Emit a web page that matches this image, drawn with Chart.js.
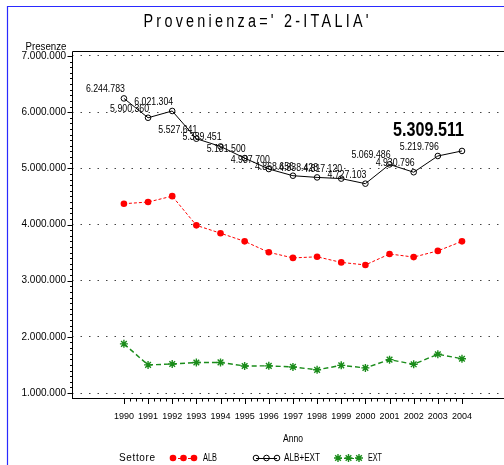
<!DOCTYPE html>
<html>
<head>
<meta charset="utf-8">
<script src="https://cdn.jsdelivr.net/npm/chart.js@4.4.1/dist/chart.umd.min.js"></script>
<style>
  html, body { margin: 0; padding: 0; background: #fff; }
  #wrap { width: 504px; height: 465px; overflow: hidden; }
</style>
</head>
<body>
<div id="wrap"><canvas id="chart" width="504" height="465"></canvas></div>
<script>
// Presenze per anno, Provenienza = 2-ITALIA
const years = [1990, 1991, 1992, 1993, 1994, 1995, 1996, 1997, 1998, 1999, 2000, 2001, 2002, 2003, 2004];
const alb = [4370000, 4400000, 4505000, 3985000, 3845000, 3700000, 3505000, 3405000, 3425000, 3325000, 3280000, 3475000, 3420000, 3530000, 3700000];
const albExt = [6244783, 5900360, 6021304, 5527641, 5389451, 5181500, 4987700, 4868656, 4838428, 4817120, 4727103, 5069486, 4930796, 5219796, 5309511];
const ext = [1875000, 1500000, 1516000, 1543000, 1544000, 1481000, 1483000, 1464000, 1413000, 1492000, 1447000, 1594000, 1511000, 1690000, 1610000];
const yTicks = [1000000, 2000000, 3000000, 4000000, 5000000, 6000000, 7000000];
const seriesNames = ['ALB', 'ALB+EXT', 'EXT'];
const titleText = "Provenienza=' 2-ITALIA'";
const yTitle = 'Presenze';
const xTitle = 'Anno';
const legendTitle = 'Settore';

const FONT = '"Liberation Sans", Arial, sans-serif';
const RED = '#ff0000', BLACK = '#000000', GREEN = '#1a8c1a';

function fmt(v) { return String(v).replace(/\B(?=(\d{3})+(?!\d))/g, '.'); }
function pts(vals) { return years.map((yr, i) => ({ x: yr, y: vals[i] })); }

// draw text squeezed horizontally (narrow look) and fitted to a width
// align: 'center' (x = centre) or 'right' (x = right edge)
function fitText(ctx, text, x, y, font, width, squeeze, align) {
  ctx.save();
  ctx.font = font;
  ctx.letterSpacing = '0px';
  const w = ctx.measureText(text).width;
  let sx = squeeze || 1, ls = 0;
  if (w * sx > width) sx = width / w;
  else if (text.length > 1) ls = (width - w * sx) / (text.length - 1) / sx;
  ctx.letterSpacing = ls + 'px';
  const left = align === 'right' ? x - width : x - width / 2;
  ctx.translate(left, y);
  ctx.scale(sx, 1);
  ctx.textAlign = 'left';
  ctx.textBaseline = 'middle';
  ctx.fillText(text, 0, 0);
  ctx.restore();
}

function drawMarker(ctx, kind, x, y) {
  ctx.beginPath();
  if (kind === 0) {
    ctx.fillStyle = RED; ctx.arc(x, y, 3.3, 0, Math.PI * 2); ctx.fill();
  } else if (kind === 1) {
    ctx.strokeStyle = BLACK; ctx.lineWidth = 1; ctx.arc(x, y, 2.8, 0, Math.PI * 2); ctx.stroke();
  } else {
    ctx.strokeStyle = GREEN; ctx.lineWidth = 1.4;
    for (let a = 0; a < 4; a++) {
      const t = a * Math.PI / 4;
      ctx.moveTo(x - 4 * Math.cos(t), y - 4 * Math.sin(t));
      ctx.lineTo(x + 4 * Math.cos(t), y + 4 * Math.sin(t));
    }
    ctx.stroke();
  }
}

const decor = {
  id: 'decor',
  beforeDraw(chart) {
    const ctx = chart.ctx;
    ctx.save();
    ctx.fillStyle = '#fff';
    ctx.fillRect(0, 0, chart.width, chart.height);
    // blue frame (top + left)
    ctx.strokeStyle = '#2a2aff';
    ctx.lineWidth = 1.2;
    ctx.beginPath();
    ctx.moveTo(7.5, chart.height); ctx.lineTo(7.5, 6.5); ctx.lineTo(chart.width, 6.5);
    ctx.stroke();
    ctx.restore();
  },
  afterDraw(chart) {
    const ctx = chart.ctx;
    const area = chart.chartArea;
    const xs = chart.scales.x, ys = chart.scales.y;
    ctx.save();
    ctx.strokeStyle = '#000';
    ctx.lineWidth = 1;
    // top frame line + solid vertical axis
    const ax = Math.round(area.left) + 0.5;
    ctx.beginPath();
    ctx.moveTo(area.right, Math.round(area.top) + 0.5);
    ctx.lineTo(ax, Math.round(area.top) + 0.5);
    ctx.lineTo(ax, area.bottom);
    ctx.stroke();
    // y ticks: major every million, minor every 100.000
    ctx.beginPath();
    for (let v = yTicks[0]; v <= yTicks[yTicks.length - 1]; v += 100000) {
      const py = Math.round(ys.getPixelForValue(v)) + 0.5;
      const major = v % 1000000 === 0;
      ctx.moveTo(ax, py);
      ctx.lineTo(ax - (major ? 5 : 2.5), py);
    }
    // x ticks: major each year, minor each quarter
    for (let q = 0; q <= (years[years.length - 1] - years[0]) * 4; q++) {
      const px = Math.round(xs.getPixelForValue(years[0] + q / 4)) + 0.5;
      const major = q % 4 === 0;
      ctx.moveTo(px, area.bottom);
      ctx.lineTo(px, area.bottom + (major ? 6 : 3.5));
    }
    ctx.stroke();

    // title and axis captions
    ctx.fillStyle = '#000';
    fitText(ctx, titleText, 256, 22, '18px ' + FONT, 225, 0.8);
    fitText(ctx, yTitle, 46, 47, '10px ' + FONT, 41, 1);
    fitText(ctx, xTitle, 293, 439, '10px ' + FONT, 20, 1);

    // value labels on ALB+EXT
    const meta = chart.getDatasetMeta(1);
    meta.data.forEach((pt, i) => {
      const last = i === meta.data.length - 1;
      if (last) fitText(ctx, fmt(albExt[i]), pt.x + 2, pt.y - 21, 'bold 21px ' + FONT, 71, 0.8, 'right');
      else fitText(ctx, fmt(albExt[i]), pt.x + 1, pt.y - 9, '10.5px ' + FONT, 39, 0.85, 'right');
    });

    // legend
    const ly = 458;
    fitText(ctx, legendTitle, 137, ly, '10px ' + FONT, 36, 1);
    const groups = [
      { kind: 0, x0: 173, tx: 210, tw: 14, color: RED, dash: [3, 2] },
      { kind: 1, x0: 256, tx: 302, tw: 36, color: BLACK, dash: [] },
      { kind: 2, x0: 338, tx: 375, tw: 14, color: GREEN, dash: [4, 2] }
    ];
    groups.forEach((g, gi) => {
      ctx.save();
      ctx.strokeStyle = g.color; ctx.lineWidth = 1; ctx.setLineDash(g.dash);
      ctx.beginPath(); ctx.moveTo(g.x0, ly + 0.5); ctx.lineTo(g.x0 + 21, ly + 0.5); ctx.stroke();
      ctx.setLineDash([]);
      for (let k = 0; k < 3; k++) drawMarker(ctx, g.kind, g.x0 + k * 10.5, ly);
      ctx.restore();
      ctx.fillStyle = '#000';
      fitText(ctx, seriesNames[gi], g.tx, ly, '10px ' + FONT, g.tw, 1);
    });
    ctx.restore();
  }
};

new Chart(document.getElementById('chart'), {
  type: 'line',
  data: {
    datasets: [
      { label: seriesNames[0], data: pts(alb), borderColor: RED, backgroundColor: RED, borderWidth: 1,
        borderDash: [3, 2], pointStyle: 'circle', pointRadius: 3.3, pointBorderWidth: 0, pointBackgroundColor: RED },
      { label: seriesNames[1], data: pts(albExt), borderColor: BLACK, backgroundColor: 'rgba(0,0,0,0)', borderWidth: 1,
        pointStyle: 'circle', pointRadius: 2.8, pointBorderWidth: 1, pointBorderColor: BLACK, pointBackgroundColor: 'rgba(0,0,0,0)' },
      { label: seriesNames[2], data: pts(ext), borderColor: GREEN, backgroundColor: GREEN, borderWidth: 1.4,
        borderDash: [5, 3], pointStyle: 'star', pointRadius: 4, pointBorderWidth: 1.4, pointBorderColor: GREEN }
    ]
  },
  options: {
    responsive: false,
    animation: false,
    devicePixelRatio: 1,
    layout: { autoPadding: false, padding: { top: 51, left: 0, right: 0, bottom: 0 } },
    plugins: { legend: { display: false }, title: { display: false }, tooltip: { enabled: false } },
    scales: {
      x: {
        type: 'linear',
        min: 1987.85,
        max: 2005.74,
        afterBuildTicks: (s) => { s.ticks = years.map(v => ({ value: v })); },
        afterFit: (s) => { s.height = 465 - 398; },
        grid: { display: false, drawTicks: false },
        border: { display: true, color: '#000', width: 1 },
        ticks: { color: '#000', font: { family: FONT, size: 9 }, padding: 13, maxRotation: 0, autoSkip: false,
          callback: (v) => String(v) }
      },
      y: {
        min: 911000,
        max: 7089000,
        afterBuildTicks: (s) => { s.ticks = yTicks.map(v => ({ value: v })); },
        afterFit: (s) => { s.width = 72; },
        grid: { color: '#444', lineWidth: 1, drawTicks: false },
        border: { display: false, dash: [1.5, 7] },
        ticks: { color: '#000', font: { family: FONT, size: 10 }, padding: 6, callback: (v) => fmt(v) }
      }
    }
  },
  plugins: [decor]
});
</script>
</body>
</html>
